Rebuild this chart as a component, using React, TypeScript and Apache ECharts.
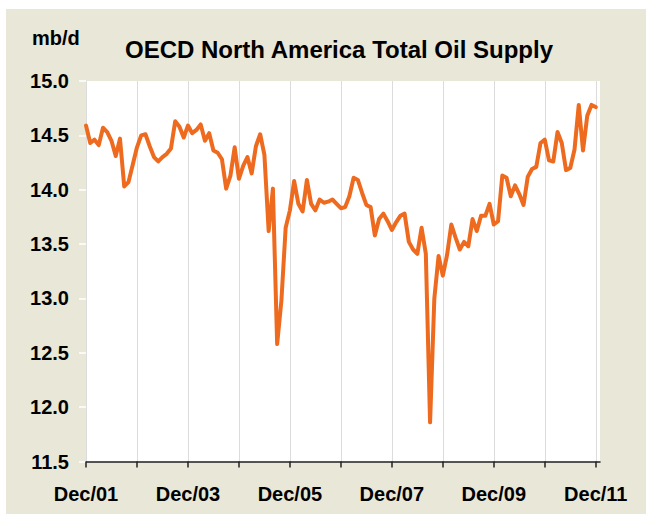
import React, { useEffect, useRef } from "react";
import * as echarts from "echarts";

const FONT = '"Liberation Sans", Arial, sans-serif';

const chartTitle = "OECD North America Total Oil Supply";
const unitLabel = "mb/d";

const monthNames = ["Jan", "Feb", "Mar", "Apr", "May", "Jun", "Jul", "Aug", "Sep", "Oct", "Nov", "Dec"];

// Monthly categories Dec/01 .. Jan/12
const categories: string[] = [];
for (let k = 0; k < 122; k++) {
  const idx = 11 + k;
  const yy = 1 + Math.floor(idx / 12);
  categories.push(monthNames[idx % 12] + "/" + String(yy).padStart(2, "0"));
}

// OECD North America total oil supply, mb/d, monthly from Dec/01
const supply = [
  14.59, 14.43, 14.46, 14.41, 14.57, 14.53, 14.45, 14.31, 14.47, 14.03,
  14.07, 14.23, 14.39, 14.5, 14.51, 14.4, 14.3, 14.26, 14.3, 14.33,
  14.38, 14.63, 14.58, 14.48, 14.59, 14.52, 14.55, 14.6, 14.45, 14.52,
  14.36, 14.34, 14.28, 14.01, 14.13, 14.39, 14.1, 14.22, 14.3, 14.15,
  14.4, 14.51, 14.32, 13.62, 14.01, 12.58, 12.98, 13.65, 13.81, 14.08,
  13.87, 13.8, 14.09, 13.87, 13.81, 13.91, 13.88, 13.89, 13.91, 13.87,
  13.83, 13.84, 13.94, 14.11, 14.09, 13.97, 13.86, 13.84, 13.58, 13.73,
  13.78, 13.71, 13.63, 13.7, 13.76, 13.78, 13.52, 13.45, 13.41, 13.65,
  13.41, 11.86, 13.0, 13.39, 13.21, 13.4, 13.68, 13.56, 13.45, 13.52,
  13.48, 13.73, 13.62, 13.76, 13.76, 13.87, 13.68, 13.71, 14.13, 14.11,
  13.94, 14.04, 13.96, 13.86, 14.12, 14.19, 14.21, 14.43, 14.46, 14.27,
  14.26, 14.53, 14.43, 14.18, 14.2, 14.37, 14.78, 14.36, 14.68, 14.78,
  14.76,
];

export default function App() {
  const ref = useRef<HTMLDivElement>(null);

  useEffect(() => {
    if (!ref.current) return;
    const chart = echarts.init(ref.current, null, { renderer: "svg" });
    chart.setOption({
      animation: false,
      backgroundColor: "#e8e7d8",
      textStyle: { fontFamily: FONT },
      grid: {
        left: 80,
        top: 72,
        width: 514,
        height: 380.5,
        show: true,
        backgroundColor: "#ffffff",
        borderWidth: 0,
      },
      graphic: [
        {
          type: "text",
          x: 333,
          y: 40,
          style: {
            text: chartTitle,
            fontSize: 24,
            fontWeight: "bold",
            fontFamily: FONT,
            fill: "#000",
            align: "center",
            verticalAlign: "middle",
          },
        },
        {
          type: "text",
          x: 26,
          y: 29,
          style: {
            text: unitLabel,
            fontSize: 20,
            fontWeight: "bold",
            fontFamily: FONT,
            fill: "#000",
            align: "left",
            verticalAlign: "middle",
          },
        },
      ],
      xAxis: {
        type: "category",
        data: categories,
        boundaryGap: false,
        axisLine: { show: true, lineStyle: { color: "#222", width: 1.5 } },
        axisTick: { show: true, interval: 11, length: 6, lineStyle: { color: "#222", width: 1.5 } },
        axisLabel: {
          interval: 23,
          margin: 22,
          fontSize: 20,
          fontWeight: "bold",
          color: "#000",
          fontFamily: FONT,
        },
        splitLine: { show: true, interval: 11, lineStyle: { color: "#dcdcdc", width: 1 } },
      },
      yAxis: {
        type: "value",
        min: 11.5,
        max: 15,
        interval: 0.5,
        axisLine: { show: false },
        axisTick: { show: true, length: 7, lineStyle: { color: "#ffffff", width: 1.5 } },
        axisLabel: {
          margin: 17,
          fontSize: 20,
          fontWeight: "bold",
          color: "#000",
          fontFamily: FONT,
          formatter: (v: number) => v.toFixed(1),
        },
        splitLine: { show: false },
      },
      series: [
        {
          type: "line",
          data: supply,
          symbol: "none",
          showSymbol: false,
          z: 3,
          lineStyle: { color: "#ee6a1e", width: 4, join: "round", cap: "round" },
        },
      ],
    });
    return () => chart.dispose();
  }, []);

  return (
    <div style={{ position: "fixed", left: 0, top: 0, width: 646, height: 518, background: "#ffffff" }}>
      <div ref={ref} style={{ position: "absolute", left: 6, top: 9, width: 640, height: 505 }} />
    </div>
  );
}
